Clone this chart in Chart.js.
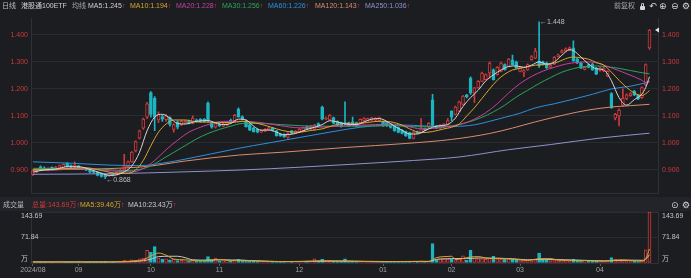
<!DOCTYPE html>
<html><head><meta charset="utf-8">
<script src="https://cdn.jsdelivr.net/npm/chart.js@4.4.1/dist/chart.umd.min.js"></script>
<style>
html,body{margin:0;padding:0;background:#1c1d21;overflow:hidden;}
#wrap{position:relative;width:691px;height:278px;background:#1c1d21;font-family:"Liberation Sans","Noto Sans CJK SC",sans-serif;font-size:7px;overflow:hidden;}
.t{position:absolute;white-space:nowrap;line-height:10px;}
.ar{color:#e03a3a;}
.ic{position:absolute;white-space:nowrap;line-height:12px;font-size:9px;color:#d6d6d6;font-family:"DejaVu Sans",sans-serif;}
canvas{position:absolute;left:0;}
#band{position:absolute;left:0;top:197px;width:691px;height:14px;background:#232429;}
.lock{position:absolute;left:640px;top:6px;width:5px;height:4px;background:#d6d6d6;border-radius:1px;}
.lock:before{content:"";position:absolute;left:1px;top:-3px;width:3px;height:4px;border:1px solid #d6d6d6;border-bottom:none;border-radius:2px 2px 0 0;box-sizing:border-box;}
</style></head>
<body><div id="wrap">
<div id="band"></div>
<canvas id="pc" width="691" height="200" style="top:0;width:691px;height:200px"></canvas>
<canvas id="vc" width="691" height="70" style="top:208px;width:691px;height:70px"></canvas>

<div class="t" style="left:2px;top:1px;color:#bdbdbd">日线</div>
<div class="t" style="left:21px;top:1px;color:#d0d0d0">港股通100ETF</div>
<div class="t" style="left:72px;top:1px;color:#a6a6a6">均线</div>
<div class="t" style="left:88px;top:1px;color:#cfcfcf">MA5:<span id="h5"></span><span class="ar">↑</span></div>
<div class="t" style="left:130px;top:1px;color:#d9a62a">MA10:<span id="h10"></span><span class="ar">↑</span></div>
<div class="t" style="left:176px;top:1px;color:#c5409e">MA20:<span id="h20"></span><span class="ar">↑</span></div>
<div class="t" style="left:222px;top:1px;color:#2aa55d">MA30:<span id="h30"></span><span class="ar">↑</span></div>
<div class="t" style="left:268px;top:1px;color:#2d8fdc">MA60:<span id="h60"></span><span class="ar">↑</span></div>
<div class="t" style="left:315px;top:1px;color:#db8b6d">MA120:<span id="h120"></span><span class="ar">↑</span></div>
<div class="t" style="left:365px;top:1px;color:#8e93cf">MA250:<span id="h250"></span><span class="ar">↑</span></div>
<div class="t" style="left:614px;top:1px;color:#a8a8a8">前复权</div>
<div class="lock"></div>
<div class="ic" style="left:649px;top:0px">↶</div>
<div class="ic" style="left:659px;top:0px">⊕</div>
<div class="ic" style="left:671px;top:0px">⊖</div>
<div class="ic" style="left:682px;top:0px">⚙</div>

<div class="t" style="left:3px;top:200px;color:#b8b8b8">成交量</div>
<div class="t" style="left:32px;top:200px;color:#d03a3a">总量:<span id="vt"></span>万<span class="ar">↑</span></div>
<div class="t" style="left:80px;top:200px;color:#d9a62a">MA5:<span id="vm5"></span>万<span class="ar">↑</span></div>
<div class="t" style="left:128px;top:200px;color:#c8c8c8">MA10:<span id="vm10"></span>万<span class="ar">↑</span></div>
<div class="ic" style="left:671px;top:199px">⊙</div>
<div class="ic" style="left:682px;top:199px">⚙</div>
</div>
<script>
// ---------------- data ----------------
const dates = [
'2024-08-15','2024-08-16','2024-08-19','2024-08-20','2024-08-21','2024-08-22','2024-08-23','2024-08-26','2024-08-27','2024-08-28','2024-08-29','2024-08-30',
'2024-09-02','2024-09-03','2024-09-04','2024-09-05','2024-09-06','2024-09-09','2024-09-10','2024-09-11','2024-09-12','2024-09-13','2024-09-18','2024-09-19','2024-09-20','2024-09-23','2024-09-24','2024-09-25','2024-09-26','2024-09-27','2024-09-30',
'2024-10-08','2024-10-09','2024-10-10','2024-10-11','2024-10-14','2024-10-15','2024-10-16','2024-10-17','2024-10-18','2024-10-21','2024-10-22','2024-10-23','2024-10-24','2024-10-25','2024-10-28','2024-10-29','2024-10-30','2024-10-31',
'2024-11-01','2024-11-04','2024-11-05','2024-11-06','2024-11-07','2024-11-08','2024-11-11','2024-11-12','2024-11-13','2024-11-14','2024-11-15','2024-11-18','2024-11-19','2024-11-20','2024-11-21','2024-11-22','2024-11-25','2024-11-26','2024-11-27','2024-11-28','2024-11-29',
'2024-12-02','2024-12-03','2024-12-04','2024-12-05','2024-12-06','2024-12-09','2024-12-10','2024-12-11','2024-12-12','2024-12-13','2024-12-16','2024-12-17','2024-12-18','2024-12-19','2024-12-20','2024-12-23','2024-12-24','2024-12-25','2024-12-26','2024-12-27','2024-12-30','2024-12-31',
'2025-01-02','2025-01-03','2025-01-06','2025-01-07','2025-01-08','2025-01-09','2025-01-10','2025-01-13','2025-01-14','2025-01-15','2025-01-16','2025-01-17','2025-01-20','2025-01-21','2025-01-22','2025-01-23','2025-01-24','2025-01-27',
'2025-02-05','2025-02-06','2025-02-07','2025-02-10','2025-02-11','2025-02-12','2025-02-13','2025-02-14','2025-02-17','2025-02-18','2025-02-19','2025-02-20','2025-02-21','2025-02-24','2025-02-25','2025-02-26','2025-02-27','2025-02-28',
'2025-03-03','2025-03-04','2025-03-05','2025-03-06','2025-03-07','2025-03-10','2025-03-11','2025-03-12','2025-03-13','2025-03-14','2025-03-17','2025-03-18','2025-03-19','2025-03-20','2025-03-21','2025-03-24','2025-03-25','2025-03-26','2025-03-27','2025-03-28','2025-03-31',
'2025-04-01','2025-04-02','2025-04-03','2025-04-07','2025-04-08','2025-04-09','2025-04-10','2025-04-11','2025-04-14','2025-04-15','2025-04-16','2025-04-17','2025-04-18','2025-04-21'];

const open = [
0.883,0.893,0.912,0.908,0.898,0.910,0.903,0.907,0.907,0.925,0.916,0.910,
0.915,0.903,0.906,0.903,0.896,0.891,0.887,0.884,0.878,0.886,0.883,0.890,0.900,0.912,0.930,0.970,1.018,1.055,1.095,
1.186,1.165,1.085,1.098,1.086,1.094,1.050,1.078,1.068,1.073,1.082,1.072,1.085,1.088,1.087,1.148,1.075,1.058,
1.070,1.062,1.066,1.085,1.082,1.124,1.098,1.082,1.068,1.056,1.050,1.040,1.044,1.047,1.055,1.045,1.034,1.032,1.020,1.045,1.036,
1.040,1.045,1.060,1.052,1.050,1.072,1.133,1.088,1.085,1.094,1.080,1.075,1.075,1.075,1.078,1.075,1.075,1.083,1.083,1.084,1.084,1.082,
1.079,1.075,1.069,1.063,1.057,1.047,1.042,1.038,1.017,1.042,1.040,1.053,1.058,1.160,1.063,1.055,1.060,1.069,
1.118,1.106,1.118,1.143,1.178,1.240,1.185,1.204,1.228,1.234,1.259,1.271,1.253,1.265,1.290,1.283,1.308,1.300,
1.265,1.262,1.270,1.308,1.314,1.302,1.300,1.296,1.280,1.292,1.320,1.335,1.340,1.345,1.352,1.310,1.296,1.272,1.290,1.292,1.277,
1.268,1.266,1.247,1.183,1.092,1.100,1.140,1.165,1.175,1.192,1.178,1.168,1.215,1.352];
const high = [
0.900,0.905,0.915,0.912,0.909,0.912,0.913,0.918,0.923,0.927,0.919,0.930,
0.917,0.909,0.908,0.905,0.898,0.893,0.889,0.886,0.888,0.889,0.893,0.902,0.958,0.934,0.968,1.008,1.048,1.092,1.150,
1.190,1.172,1.115,1.102,1.106,1.097,1.072,1.082,1.084,1.083,1.085,1.100,1.088,1.090,1.090,1.152,1.078,1.075,
1.073,1.073,1.079,1.088,1.106,1.130,1.100,1.085,1.070,1.058,1.052,1.049,1.053,1.059,1.058,1.047,1.036,1.034,1.038,1.047,1.046,
1.053,1.058,1.063,1.065,1.069,1.074,1.136,1.096,1.105,1.096,1.082,1.077,1.152,1.077,1.096,1.077,1.089,1.094,1.092,1.095,1.094,1.096,
1.081,1.077,1.071,1.065,1.059,1.049,1.044,1.040,1.042,1.044,1.090,1.055,1.075,1.180,1.065,1.068,1.072,1.090,
1.120,1.136,1.155,1.176,1.180,1.245,1.206,1.231,1.262,1.256,1.300,1.274,1.283,1.299,1.293,1.313,1.325,1.303,
1.283,1.272,1.293,1.323,1.350,1.448,1.303,1.299,1.291,1.320,1.329,1.345,1.352,1.356,1.378,1.313,1.299,1.283,1.293,1.295,1.280,
1.281,1.281,1.268,1.186,1.110,1.126,1.200,1.182,1.186,1.195,1.180,1.208,1.293,1.420];
const low = [
0.880,0.890,0.898,0.899,0.896,0.899,0.901,0.905,0.905,0.910,0.907,0.908,
0.902,0.901,0.897,0.890,0.888,0.878,0.873,0.868,0.876,0.878,0.881,0.888,0.898,0.910,0.928,0.967,1.015,1.050,1.090,
1.095,1.045,1.075,1.080,1.080,1.062,1.040,1.052,1.064,1.070,1.070,1.070,1.077,1.077,1.078,1.078,1.055,1.055,
1.060,1.060,1.064,1.074,1.080,1.094,1.085,1.058,1.045,1.040,1.037,1.038,1.042,1.045,1.044,1.025,1.024,1.020,1.017,1.033,1.034,
1.038,1.043,1.050,1.050,1.048,1.058,1.085,1.086,1.083,1.070,1.063,1.058,1.068,1.061,1.070,1.061,1.073,1.081,1.081,1.082,1.082,1.080,
1.061,1.061,1.055,1.043,1.037,1.033,1.024,1.015,1.015,1.034,1.038,1.045,1.056,1.060,1.053,1.053,1.058,1.067,
1.082,1.104,1.116,1.141,1.167,1.180,1.150,1.202,1.226,1.232,1.240,1.232,1.251,1.263,1.269,1.281,1.288,1.275,
1.263,1.245,1.268,1.306,1.312,1.280,1.288,1.276,1.278,1.290,1.318,1.333,1.338,1.342,1.302,1.293,1.275,1.270,1.278,1.268,1.253,
1.266,1.264,1.245,1.128,1.085,1.063,1.135,1.160,1.172,1.175,1.160,1.165,1.212,1.346];
const close = [
0.898,0.902,0.900,0.902,0.906,0.901,0.911,0.916,0.921,0.912,0.910,0.918,
0.904,0.907,0.899,0.892,0.891,0.880,0.876,0.874,0.886,0.880,0.891,0.898,0.915,0.930,0.966,1.005,1.045,1.088,1.145,
1.106,1.095,1.105,1.088,1.100,1.069,1.068,1.058,1.080,1.080,1.073,1.092,1.080,1.080,1.080,1.083,1.058,1.072,
1.063,1.070,1.076,1.077,1.102,1.097,1.088,1.060,1.047,1.042,1.040,1.046,1.050,1.056,1.046,1.027,1.026,1.023,1.035,1.036,1.044,
1.050,1.056,1.052,1.063,1.067,1.061,1.088,1.093,1.102,1.072,1.065,1.060,1.072,1.063,1.072,1.063,1.087,1.092,1.090,1.093,1.092,1.093,
1.063,1.063,1.057,1.045,1.039,1.035,1.026,1.017,1.040,1.036,1.052,1.047,1.073,1.065,1.055,1.066,1.070,1.083,
1.095,1.133,1.152,1.173,1.170,1.185,1.204,1.228,1.259,1.253,1.296,1.234,1.280,1.296,1.271,1.310,1.290,1.277,
1.280,1.268,1.290,1.320,1.340,1.285,1.290,1.278,1.288,1.317,1.326,1.342,1.348,1.352,1.305,1.296,1.277,1.280,1.280,1.270,1.255,
1.278,1.278,1.265,1.131,1.106,1.122,1.165,1.178,1.183,1.178,1.162,1.205,1.290,1.418];
// volume, unit: 万
const volume = [
3,4,3,2,3,2,3,3,4,3,2,4,
3,2,2,3,2,3,3,4,2,2,3,4,8,6,9,8,12,14,36,
30,46,14,10,12,9,10,7,8,6,5,7,5,5,5,18,8,14,
6,5,6,5,9,10,6,7,5,5,4,3,3,4,3,4,3,3,5,3,3,
4,3,4,3,12,5,10,4,6,4,4,3,12,3,4,3,4,3,3,4,3,4,
3,3,4,4,5,4,4,5,5,3,6,4,5,55,8,12,11,10,
10,9,12,20,8,36,14,12,12,10,14,19,12,10,10,12,10,8,
7,7,8,7,9,28,10,9,7,8,7,8,8,7,10,8,7,6,6,5,5,
5,5,5,15,10,9,7,5.5,5,5,4,8,37,143.69];

// moving averages: [date, value]
const ma5 = [['2024-08-15',0.892],['2024-08-20',0.900],['2024-08-23',0.903],['2024-08-28',0.912],['2024-09-02',0.912],['2024-09-05',0.902],['2024-09-10',0.888],['2024-09-12',0.880],['2024-09-18',0.882],['2024-09-20',0.893],['2024-09-24',0.915],['2024-09-26',0.965],['2024-09-30',1.045],['2024-10-09',1.096],['2024-10-11',1.106],['2024-10-15',1.092],['2024-10-17',1.072],['2024-10-21',1.070],['2024-10-24',1.080],['2024-10-29',1.083],['2024-10-31',1.074],['2024-11-04',1.068],['2024-11-06',1.072],['2024-11-08',1.088],['2024-11-12',1.085],['2024-11-14',1.062],['2024-11-18',1.047],['2024-11-20',1.048],['2024-11-22',1.040],['2024-11-26',1.030],['2024-11-29',1.035],['2024-12-04',1.050],['2024-12-06',1.058],['2024-12-10',1.068],['2024-12-12',1.082],['2024-12-16',1.078],['2024-12-18',1.070],['2024-12-23',1.068],['2024-12-25',1.078],['2024-12-27',1.088],['2024-12-31',1.090],['2025-01-03',1.080],['2025-01-07',1.062],['2025-01-09',1.047],['2025-01-13',1.033],['2025-01-15',1.033],['2025-01-17',1.045],['2025-01-21',1.058],['2025-01-23',1.064],['2025-01-27',1.068],['2025-02-06',1.092],['2025-02-10',1.135],['2025-02-12',1.168],['2025-02-14',1.195],['2025-02-18',1.230],['2025-02-20',1.252],['2025-02-24',1.270],['2025-02-26',1.283],['2025-02-28',1.285],['2025-03-04',1.280],['2025-03-06',1.288],['2025-03-10',1.300],['2025-03-12',1.292],['2025-03-14',1.300],['2025-03-18',1.325],['2025-03-20',1.345],['2025-03-21',1.342],['2025-03-25',1.318],['2025-03-27',1.292],['2025-03-31',1.275],['2025-04-02',1.270],['2025-04-07',1.230],['2025-04-09',1.168],['2025-04-11',1.140],['2025-04-15',1.160],['2025-04-17',1.181],['2025-04-18',1.205],['2025-04-21',1.245]];
const ma10 = [['2024-08-15',0.900],['2024-08-22',0.902],['2024-08-29',0.906],['2024-09-04',0.908],['2024-09-10',0.898],['2024-09-18',0.888],['2024-09-23',0.888],['2024-09-25',0.900],['2024-09-27',0.935],['2024-10-08',0.990],['2024-10-10',1.040],['2024-10-14',1.070],['2024-10-16',1.085],['2024-10-21',1.085],['2024-10-24',1.078],['2024-10-29',1.077],['2024-11-01',1.076],['2024-11-06',1.075],['2024-11-11',1.080],['2024-11-14',1.075],['2024-11-19',1.065],['2024-11-22',1.052],['2024-11-27',1.042],['2024-12-02',1.040],['2024-12-05',1.046],['2024-12-10',1.052],['2024-12-13',1.065],['2024-12-18',1.072],['2024-12-23',1.070],['2024-12-26',1.076],['2024-12-31',1.080],['2025-01-06',1.078],['2025-01-09',1.066],['2025-01-13',1.052],['2025-01-16',1.038],['2025-01-21',1.042],['2025-01-24',1.052],['2025-02-05',1.058],['2025-02-07',1.070],['2025-02-11',1.100],['2025-02-13',1.130],['2025-02-17',1.165],['2025-02-19',1.200],['2025-02-21',1.232],['2025-02-25',1.255],['2025-02-27',1.270],['2025-03-03',1.276],['2025-03-05',1.282],['2025-03-07',1.288],['2025-03-11',1.290],['2025-03-13',1.292],['2025-03-17',1.300],['2025-03-19',1.312],['2025-03-21',1.318],['2025-03-25',1.315],['2025-03-27',1.310],['2025-03-31',1.298],['2025-04-02',1.288],['2025-04-07',1.262],['2025-04-09',1.232],['2025-04-11',1.205],['2025-04-15',1.185],['2025-04-17',1.175],['2025-04-18',1.182],['2025-04-21',1.194]];
const ma20 = [['2024-08-15',0.898],['2024-08-23',0.900],['2024-09-02',0.905],['2024-09-10',0.900],['2024-09-18',0.895],['2024-09-24',0.893],['2024-09-27',0.905],['2024-10-09',0.935],['2024-10-14',0.975],['2024-10-17',1.010],['2024-10-22',1.040],['2024-10-25',1.058],['2024-10-30',1.072],['2024-11-04',1.080],['2024-11-11',1.080],['2024-11-18',1.075],['2024-11-25',1.064],['2024-12-02',1.056],['2024-12-09',1.058],['2024-12-16',1.062],['2024-12-23',1.065],['2024-12-30',1.068],['2025-01-06',1.070],['2025-01-10',1.063],['2025-01-16',1.052],['2025-01-22',1.055],['2025-02-05',1.062],['2025-02-10',1.072],['2025-02-13',1.088],['2025-02-18',1.112],['2025-02-21',1.145],['2025-02-26',1.185],['2025-03-03',1.220],['2025-03-06',1.246],['2025-03-11',1.266],['2025-03-14',1.280],['2025-03-19',1.292],['2025-03-24',1.298],['2025-03-27',1.300],['2025-04-01',1.293],['2025-04-07',1.278],['2025-04-10',1.262],['2025-04-15',1.245],['2025-04-17',1.232],['2025-04-18',1.224],['2025-04-21',1.228]];
const ma30 = [['2024-08-15',0.906],['2024-08-27',0.905],['2024-09-06',0.904],['2024-09-20',0.898],['2024-09-26',0.902],['2024-10-08',0.915],['2024-10-11',0.940],['2024-10-16',0.965],['2024-10-21',0.990],['2024-10-24',1.015],['2024-10-29',1.035],['2024-11-01',1.050],['2024-11-06',1.062],['2024-11-11',1.072],['2024-11-18',1.072],['2024-11-25',1.068],['2024-12-02',1.064],['2024-12-09',1.062],['2024-12-16',1.062],['2024-12-23',1.062],['2024-12-30',1.063],['2025-01-07',1.064],['2025-01-14',1.060],['2025-01-21',1.060],['2025-02-05',1.063],['2025-02-11',1.075],['2025-02-17',1.095],['2025-02-20',1.115],['2025-02-25',1.140],['2025-02-28',1.170],['2025-03-05',1.195],['2025-03-10',1.220],['2025-03-13',1.242],['2025-03-18',1.262],['2025-03-21',1.275],['2025-03-26',1.283],['2025-03-31',1.285],['2025-04-03',1.282],['2025-04-09',1.276],['2025-04-14',1.268],['2025-04-17',1.260],['2025-04-21',1.256]];
const ma60 = [['2024-08-15',0.930],['2024-08-29',0.925],['2024-09-12',0.918],['2024-09-26',0.916],['2024-10-11',0.925],['2024-10-21',0.940],['2024-10-30',0.960],['2024-11-08',0.980],['2024-11-20',1.000],['2024-12-02',1.020],['2024-12-12',1.040],['2024-12-24',1.058],['2025-01-02',1.065],['2025-01-10',1.066],['2025-01-20',1.062],['2025-02-05',1.061],['2025-02-13',1.067],['2025-02-19',1.080],['2025-02-25',1.095],['2025-03-03',1.110],['2025-03-07',1.130],['2025-03-14',1.145],['2025-03-21',1.162],['2025-03-28',1.180],['2025-04-07',1.200],['2025-04-14',1.210],['2025-04-21',1.226]];
const ma120 = [['2024-08-15',0.900],['2024-08-29',0.902],['2024-09-12',0.905],['2024-09-30',0.913],['2024-10-21',0.933],['2024-11-08',0.955],['2024-11-26',0.966],['2024-12-18',0.983],['2025-01-10',0.998],['2025-02-05',1.013],['2025-02-19',1.035],['2025-02-27',1.055],['2025-03-07',1.078],['2025-03-19',1.105],['2025-03-27',1.122],['2025-04-07',1.133],['2025-04-14',1.138],['2025-04-21',1.143]];
const ma250 = [['2024-08-15',0.884],['2024-09-12',0.886],['2024-10-21',0.893],['2024-11-11',0.900],['2024-12-02',0.910],['2024-12-23',0.922],['2025-01-14',0.935],['2025-02-07',0.948],['2025-02-26',0.975],['2025-03-13',0.994],['2025-04-01',1.018],['2025-04-21',1.036]];
const volMa5 = [['2024-08-15',3],['2024-08-29',3],['2024-09-12',3],['2024-09-20',4],['2024-09-25',6],['2024-09-27',9],['2024-10-08',20],['2024-10-10',28],['2024-10-14',22],['2024-10-16',11],['2024-10-21',9],['2024-10-24',6.5],['2024-10-29',8],['2024-11-01',10],['2024-11-06',7],['2024-11-11',8],['2024-11-18',4.5],['2024-12-02',4],['2024-12-10',6.5],['2024-12-18',6],['2024-12-30',3.5],['2025-01-14',4.5],['2025-01-20',4.5],['2025-01-22',15],['2025-01-24',18],['2025-02-05',19],['2025-02-06',10],['2025-02-10',12.5],['2025-02-12',17],['2025-02-14',18],['2025-02-19',12.5],['2025-02-24',13],['2025-02-27',11],['2025-03-05',7.5],['2025-03-10',12],['2025-03-13',12.5],['2025-03-17',8.2],['2025-03-26',7],['2025-04-02',5],['2025-04-07',7],['2025-04-10',9],['2025-04-15',6.3],['2025-04-17',5.5],['2025-04-18',11.8],['2025-04-21',39.46]];
const volMa10 = [['2024-08-15',3],['2024-09-12',3],['2024-09-24',4],['2024-09-27',6.5],['2024-10-08',11],['2024-10-10',18],['2024-10-15',19],['2024-10-17',19],['2024-10-21',15],['2024-10-23',9],['2024-10-29',8],['2024-11-04',9],['2024-11-11',7.5],['2024-11-18',6],['2024-11-25',4],['2024-12-09',5],['2024-12-23',5],['2025-01-07',4],['2025-01-20',4.5],['2025-01-22',10],['2025-02-05',12.4],['2025-02-11',13],['2025-02-17',14.3],['2025-02-21',13.5],['2025-02-27',12],['2025-03-05',9],['2025-03-11',10.5],['2025-03-19',9],['2025-03-26',7.5],['2025-04-02',6],['2025-04-10',7.5],['2025-04-15',8],['2025-04-17',7.5],['2025-04-18',10.5],['2025-04-21',23.43]];

const priceTicks = [0.9, 1.0, 1.1, 1.2, 1.3, 1.4];
const volTicks = [0, 71.84, 143.69];
const volTickLabels = ['万', '71.84', '143.69'];

// ---------------- rendering ----------------
const RED = '#cf3a3c', CYAN = '#1cb5c2', BG = '#1c1d21', GRID = '#2a2b30', FRAME = '#303138';
const FONT = '"Liberation Sans", "Noto Sans CJK SC", sans-serif';
Chart.defaults.font.family = FONT;
const N = dates.length;
const labels = dates.concat(['', '']);
const isUp = i => i < N && close[i] >= open[i];
const lastOf = p => p[p.length - 1][1];
function series(pairs) {
  const a = new Array(labels.length).fill(null);
  pairs.forEach(p => { const i = dates.indexOf(p[0]); if (i >= 0) a[i] = p[1]; });
  return a;
}
const lineDs = (pairs, color) => ({
  type: 'line', data: series(pairs), borderColor: color, borderWidth: 1, pointRadius: 0,
  pointHoverRadius: 0, spanGaps: true, cubicInterpolationMode: 'monotone', fill: false, order: 0, yAxisID: 'y'
});
const monthLabel = i => {
  if (i >= N) return '';
  const m = dates[i].slice(5, 7);
  if (i === 0) return dates[i].slice(0, 4) + '/' + m;
  return m !== dates[i - 1].slice(5, 7) ? m : '';
};

document.getElementById('h5').textContent = lastOf(ma5).toFixed(3);
document.getElementById('h10').textContent = lastOf(ma10).toFixed(3);
document.getElementById('h20').textContent = lastOf(ma20).toFixed(3);
document.getElementById('h30').textContent = lastOf(ma30).toFixed(3);
document.getElementById('h60').textContent = lastOf(ma60).toFixed(3);
document.getElementById('h120').textContent = lastOf(ma120).toFixed(3);
document.getElementById('h250').textContent = lastOf(ma250).toFixed(3);
document.getElementById('vt').textContent = volume[N - 1].toFixed(2);
document.getElementById('vm5').textContent = lastOf(volMa5).toFixed(2);
document.getElementById('vm10').textContent = lastOf(volMa10).toFixed(2);

const yMin = 0.8154, yMax = 1.4625;
const priceAxis = (pos, w, showGrid) => ({
  type: 'linear', position: pos, min: yMin, max: yMax,
  afterBuildTicks: s => { s.ticks = priceTicks.map(v => ({ value: v })); },
  afterFit: s => { s.width = w; },
  grid: showGrid ? { color: GRID, drawTicks: false, lineWidth: 1 } : { display: false, drawTicks: false },
  border: { display: false },
  ticks: { color: '#c93a3c', font: { family: FONT, size: 7 }, padding: 3, callback: v => Number(v).toFixed(3) }
});

const frame = {
  id: 'frame',
  beforeDatasetsDraw(chart) {
    const { ctx, chartArea: a } = chart;
    ctx.save();
    ctx.strokeStyle = FRAME; ctx.lineWidth = 1;
    ctx.beginPath();
    ctx.moveTo(Math.round(a.left) + 0.5, a.top);
    ctx.lineTo(Math.round(a.left) + 0.5, Math.round(a.bottom) + 0.5);
    ctx.lineTo(Math.round(a.right) - 0.5, Math.round(a.bottom) + 0.5);
    ctx.lineTo(Math.round(a.right) - 0.5, a.top);
    if (chart.canvas.id === 'vc') ctx.closePath();
    ctx.stroke();
    ctx.restore();
  }
};

const priceExtras = {
  id: 'priceExtras',
  afterDatasetsDraw(chart) {
    const { ctx, chartArea: a, scales: { x, y } } = chart;
    const hi = high.indexOf(Math.max(...high));
    const lo = low.indexOf(Math.min(...low));
    ctx.save();
    ctx.font = '7px ' + FONT;
    ctx.fillStyle = '#bdbdbd';
    ctx.textBaseline = 'middle'; ctx.textAlign = 'left';
    ctx.fillText('←' + high[hi].toFixed(3), x.getPixelForValue(hi) + 1, y.getPixelForValue(high[hi]));
    ctx.fillText('←' + low[lo].toFixed(3), x.getPixelForValue(lo) + 1, y.getPixelForValue(low[lo]) + 1);
    // last price marker
    const py = y.getPixelForValue(close[N - 1]);
    ctx.fillStyle = '#e6e6e6';
    ctx.beginPath();
    ctx.moveTo(a.right - 4, py); ctx.lineTo(a.right, py - 2.5); ctx.lineTo(a.right, py + 2.5); ctx.closePath();
    ctx.fill();
    ctx.restore();
  }
};

new Chart(document.getElementById('pc'), {
  type: 'bar',
  data: {
    labels,
    datasets: [
      lineDs(ma5, '#d6d6d6'),
      lineDs(ma10, '#d9a62a'),
      lineDs(ma20, '#c5409e'),
      lineDs(ma30, '#2aa55d'),
      lineDs(ma60, '#2d8fdc'),
      lineDs(ma120, '#db8b6d'),
      lineDs(ma250, '#8e93cf'),
      {
        type: 'bar', label: 'body', data: dates.map((d, i) => [open[i], close[i]]).concat([null, null]),
        grouped: false, barThickness: 3, minBarLength: 1, borderWidth: 1, borderSkipped: false,
        backgroundColor: c => isUp(c.dataIndex) ? BG : CYAN,
        borderColor: c => isUp(c.dataIndex) ? RED : CYAN, order: 1, yAxisID: 'y'
      },
      {
        type: 'bar', label: 'wick', data: dates.map((d, i) => [low[i], high[i]]).concat([null, null]),
        grouped: false, barThickness: 1, borderWidth: 0,
        backgroundColor: c => isUp(c.dataIndex) ? RED : CYAN, order: 2, yAxisID: 'y'
      }
    ]
  },
  options: {
    responsive: false, animation: false, events: [], devicePixelRatio: 1,
    layout: { padding: { top: 18, bottom: 6, left: 0, right: 0 } },
    plugins: { legend: { display: false }, tooltip: { enabled: false } },
    scales: {
      x: { type: 'category', display: false, offset: true },
      y: priceAxis('right', 32, true),
      yl: priceAxis('left', 31, false)
    }
  },
  plugins: [frame, priceExtras]
});

const volExtras = {
  id: 'volExtras',
  afterDraw(chart) {
    const { ctx, scales: { y } } = chart;
    ctx.save();
    ctx.font = '7px ' + FONT;
    ctx.fillStyle = '#c4c4c4';
    ctx.textBaseline = 'middle'; ctx.textAlign = 'left';
    volTicks.forEach((v, k) => {
      let py = y.getPixelForValue(v);
      if (k === volTicks.length - 1) py += 4;
      else if (v === 0) py -= 4;
      ctx.fillText(volTickLabels[k], 21, py);
      ctx.fillText(volTickLabels[k], 662, py);
    });
    ctx.restore();
  }
};

new Chart(document.getElementById('vc'), {
  type: 'bar',
  data: {
    labels,
    datasets: [
      Object.assign(lineDs(volMa5, '#d9a62a'), {}),
      Object.assign(lineDs(volMa10, '#c8c8c8'), {}),
      {
        type: 'bar', data: volume.concat([null, null]), grouped: false, barThickness: 3, minBarLength: 1,
        borderWidth: 1, borderSkipped: false,
        backgroundColor: c => isUp(c.dataIndex) ? BG : CYAN,
        borderColor: c => isUp(c.dataIndex) ? RED : CYAN, order: 1, yAxisID: 'y'
      }
    ]
  },
  options: {
    responsive: false, animation: false, events: [], devicePixelRatio: 1,
    layout: { padding: { top: 4, bottom: 0, left: 0, right: 0 } },
    plugins: { legend: { display: false }, tooltip: { enabled: false } },
    scales: {
      x: {
        type: 'category', offset: true,
        grid: { offset: false, drawOnChartArea: false, drawTicks: true, tickLength: 3,
                color: c => monthLabel(c.index) ? '#5a5b62' : 'rgba(0,0,0,0)' },
        border: { display: false },
        ticks: { autoSkip: false, maxRotation: 0, minRotation: 0, padding: 0, color: '#a3a3a3',
                 font: { family: FONT, size: 7 }, callback: (v, i) => monthLabel(i) },
        afterFit: s => { s.height = 15; }
      },
      y: {
        type: 'linear', position: 'right', min: 0, max: volTicks[volTicks.length - 1],
        afterBuildTicks: s => { s.ticks = volTicks.map(v => ({ value: v })); },
        afterFit: s => { s.width = 32; },
        grid: { color: c => (c.tick && c.tick.value > 0) ? GRID : 'rgba(0,0,0,0)', drawTicks: false },
        border: { display: false }, ticks: { display: false }
      },
      yl: {
        type: 'linear', position: 'left', min: 0, max: volTicks[volTicks.length - 1],
        afterFit: s => { s.width = 31; },
        grid: { display: false, drawTicks: false }, border: { display: false }, ticks: { display: false }
      }
    }
  },
  plugins: [frame, volExtras]
});
</script>
</body></html>
